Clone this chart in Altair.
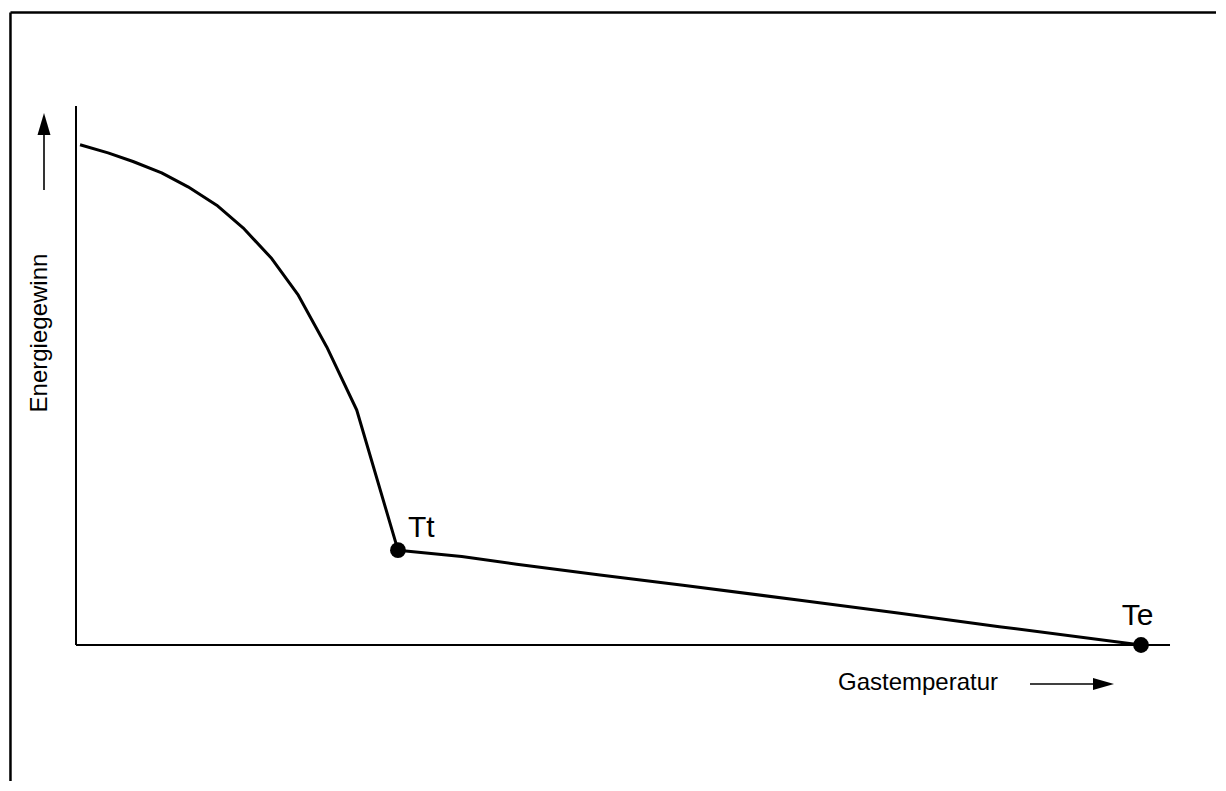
import altair as alt
import pandas as pd

# ---- values (axis units: 0..100 along each axis) ----
curve_x = [0.37, 2.93, 5.21, 7.83, 10.24, 12.86, 15.27, 17.89, 20.32, 22.92,
           25.66, 29.43, 35.26, 40.28, 47.90, 55.48, 66.18, 75.30, 84.40, 97.35]
curve_y = [92.8, 91.3, 89.7, 87.6, 85.0, 81.6, 77.4, 71.7, 64.9, 55.3,
           43.6, 17.6, 16.4, 15.0, 13.0, 11.1, 8.3, 5.9, 3.4, 0.0]

pt_name = ["Tt", "Te"]
pt_x = [29.43, 97.35]
pt_y = [17.6, 0.0]

lbl_text = ["Tt", "Te"]
lbl_x = [30.35, 95.58]
lbl_y = [20.09, 3.71]

PLOT_H = 773
X_DOM = [-6.2157, 104.204]
Y_DOM = [118.182 - PLOT_H / 5.39, 118.182]

FONT = "Liberation Sans"

xs = alt.Scale(domain=X_DOM, nice=False, zero=False)
ys = alt.Scale(domain=Y_DOM, nice=False, zero=False)

curve = pd.DataFrame({"i": range(len(curve_x)), "x": curve_x, "y": curve_y})
pts = pd.DataFrame({"name": pt_name, "x": pt_x, "y": pt_y})
lbls = pd.DataFrame({"t": lbl_text, "x": lbl_x, "y": lbl_y})

axes_df = pd.DataFrame({"x": [0, 0], "y": [0, 0], "x2": [100, 0], "y2": [0, 100]})
border_df = pd.DataFrame({"x": [-5.99, -5.99], "y": [117.35, 117.35],
                          "x2": [X_DOM[1], -5.99], "y2": [117.35, Y_DOM[0]]})
shaft_df = pd.DataFrame({"x": [-2.925, 87.2], "y": [84.42, -7.24],
                         "x2": [-2.925, 93.3], "y2": [95.2, -7.24]})
head_up = pd.DataFrame({"x": [-2.925], "y": [96.66]})
head_right = pd.DataFrame({"x": [93.92], "y": [-7.24]})
xtitle = pd.DataFrame({"t": ["Gastemperatur"], "x": [69.65], "y": [-8.35]})
ytitle = pd.DataFrame({"t": ["Energiegewinn"], "x": [-2.65], "y": [57.88]})


def seg(df, w):
    return alt.Chart(df).mark_rule(color="black", strokeWidth=w, strokeCap="butt").encode(
        x=alt.X("x:Q", scale=xs, axis=None),
        y=alt.Y("y:Q", scale=ys, axis=None),
        x2="x2:Q",
        y2="y2:Q",
    )


def pos(df):
    return dict(x=alt.X("x:Q", scale=xs, axis=None), y=alt.Y("y:Q", scale=ys, axis=None))


axes = seg(axes_df, 2)
border = seg(border_df, 2.5)
shafts = seg(shaft_df, 1.6)

arrow_up = alt.Chart(head_up).mark_point(
    shape="M0,-1L0.59,1L-0.59,1Z", size=484, filled=True, color="black", opacity=1
).encode(**pos(head_up))
arrow_right = alt.Chart(head_right).mark_point(
    shape="M1,0L-1,-0.57L-1,0.57Z", size=441, filled=True, color="black", opacity=1
).encode(**pos(head_right))

line = alt.Chart(curve).mark_line(color="black", strokeWidth=3, strokeJoin="round").encode(
    order="i:Q", **pos(curve)
)
dots = alt.Chart(pts).mark_circle(size=250, color="black", opacity=1).encode(**pos(pts))

labels = alt.Chart(lbls).mark_text(
    font=FONT, fontSize=30, align="left", baseline="alphabetic", color="black"
).encode(text="t:N", **pos(lbls))

xt = alt.Chart(xtitle).mark_text(
    font=FONT, fontSize=24, align="left", baseline="alphabetic", color="black"
).encode(text="t:N", **pos(xtitle))
yt = alt.Chart(ytitle).mark_text(
    font=FONT, fontSize=24, align="center", baseline="alphabetic", angle=270, color="black"
).encode(text="t:N", **pos(ytitle))

chart = alt.layer(border, axes, shafts, arrow_up, arrow_right, line, dots, labels, xt, yt).properties(
    width=1208, height=PLOT_H, padding=0, background="white"
).configure_view(stroke=None)

chart.save("out.html", embed_options={"renderer": "svg", "actions": False})
